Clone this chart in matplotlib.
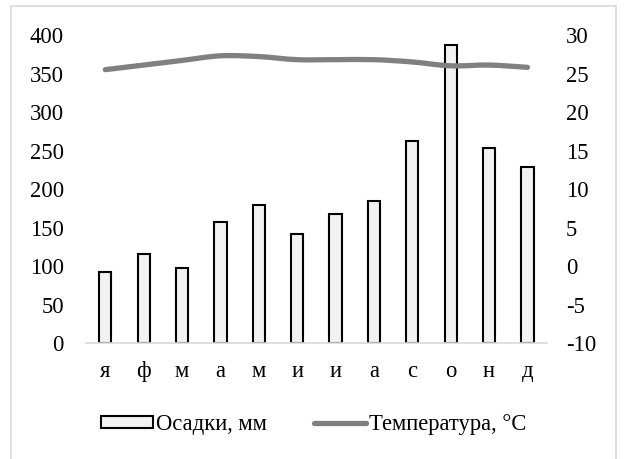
import matplotlib
matplotlib.use("Agg")
import matplotlib.pyplot as plt
from matplotlib.patches import Rectangle, PathPatch
from matplotlib.path import Path
from matplotlib.lines import Line2D

months = ["я", "ф", "м", "а", "м", "и", "и", "а", "с", "о", "н", "д"]
precip = [92, 115, 97, 157, 179, 141, 167, 185, 263, 387, 253, 228]
temp = [25.5, 26.1, 26.7, 27.3, 27.2, 26.8, 26.8, 26.8, 26.5, 26.0, 26.1, 25.8]
left_ticks = [0, 50, 100, 150, 200, 250, 300, 350, 400]
right_ticks = [-10, -5, 0, 5, 10, 15, 20, 25, 30]

plt.rcParams['font.family'] = ['Liberation Serif', 'DejaVu Serif']
plt.rcParams['axes.unicode_minus'] = False
fs = 16.3
line_color = "#808080"

fig = plt.figure(figsize=(6.24, 4.59), dpi=100)
ax = fig.add_axes([0.138, 0.2527, 0.738, 0.671])
x = list(range(len(months)))
b = ax.bar(x, precip, width=0.32, color="#f2f2f2", edgecolor="black", linewidth=1.5,
           label="Осадки, мм", zorder=2)
ax.set_ylim(0, 400)
ax.set_xlim(-0.5, len(months) - 0.5)
ax.set_yticks(left_ticks)
ax.set_xticks(x)
ax.set_xticklabels(months)
ax.tick_params(length=0, labelsize=fs)
ax.tick_params(axis='y', pad=16)
ax.tick_params(axis='x', pad=13)
for s in ["top", "right", "left"]:
    ax.spines[s].set_visible(False)
ax.spines["bottom"].set_color("#d9d9d9")
ax.spines["bottom"].set_linewidth(1.2)

ax2 = ax.twinx()
ax2.set_ylim(-10, 30)
ax2.set_xlim(-0.5, len(months) - 0.5)
# smoothed rendering of the data points (Catmull-Rom -> Bezier)
pts = list(zip(x, temp))
verts = [pts[0]]
codes = [Path.MOVETO]
n = len(pts)
for i in range(n - 1):
    p0 = pts[i - 1] if i > 0 else pts[i]
    p1 = pts[i]
    p2 = pts[i + 1]
    p3 = pts[i + 2] if i + 2 < n else pts[i + 1]
    c1 = (p1[0] + (p2[0] - p0[0]) / 6, p1[1] + (p2[1] - p0[1]) / 6)
    c2 = (p2[0] - (p3[0] - p1[0]) / 6, p2[1] - (p3[1] - p1[1]) / 6)
    verts += [c1, c2, p2]
    codes += [Path.CURVE4] * 3
patch = PathPatch(Path(verts, codes), fill=False, edgecolor=line_color, linewidth=3.8,
                  capstyle="round", joinstyle="round", zorder=3)
ax2.add_patch(patch)
ax2.set_yticks(right_ticks)
ax2.tick_params(length=0, labelsize=fs, pad=14)
for s in ["top", "right", "left", "bottom"]:
    ax2.spines[s].set_visible(False)

l = Line2D([], [], color=line_color, linewidth=3.8, solid_capstyle="round")
fig.legend([b, l], ["Осадки, мм", "Температура, °C"], loc="center",
           bbox_to_anchor=(0.503, 0.075), ncol=2, frameon=False, fontsize=fs,
           handlelength=2.27, handleheight=0.48, handletextpad=0.15, columnspacing=2.1)

fig.patches.append(Rectangle((11 / 624, -0.01), 605 / 624, 1 - 6 / 459 + 0.01,
                             transform=fig.transFigure,
                             fill=False, edgecolor="#d9d9d9", linewidth=1.2))
fig.savefig("out.png", dpi=100)
